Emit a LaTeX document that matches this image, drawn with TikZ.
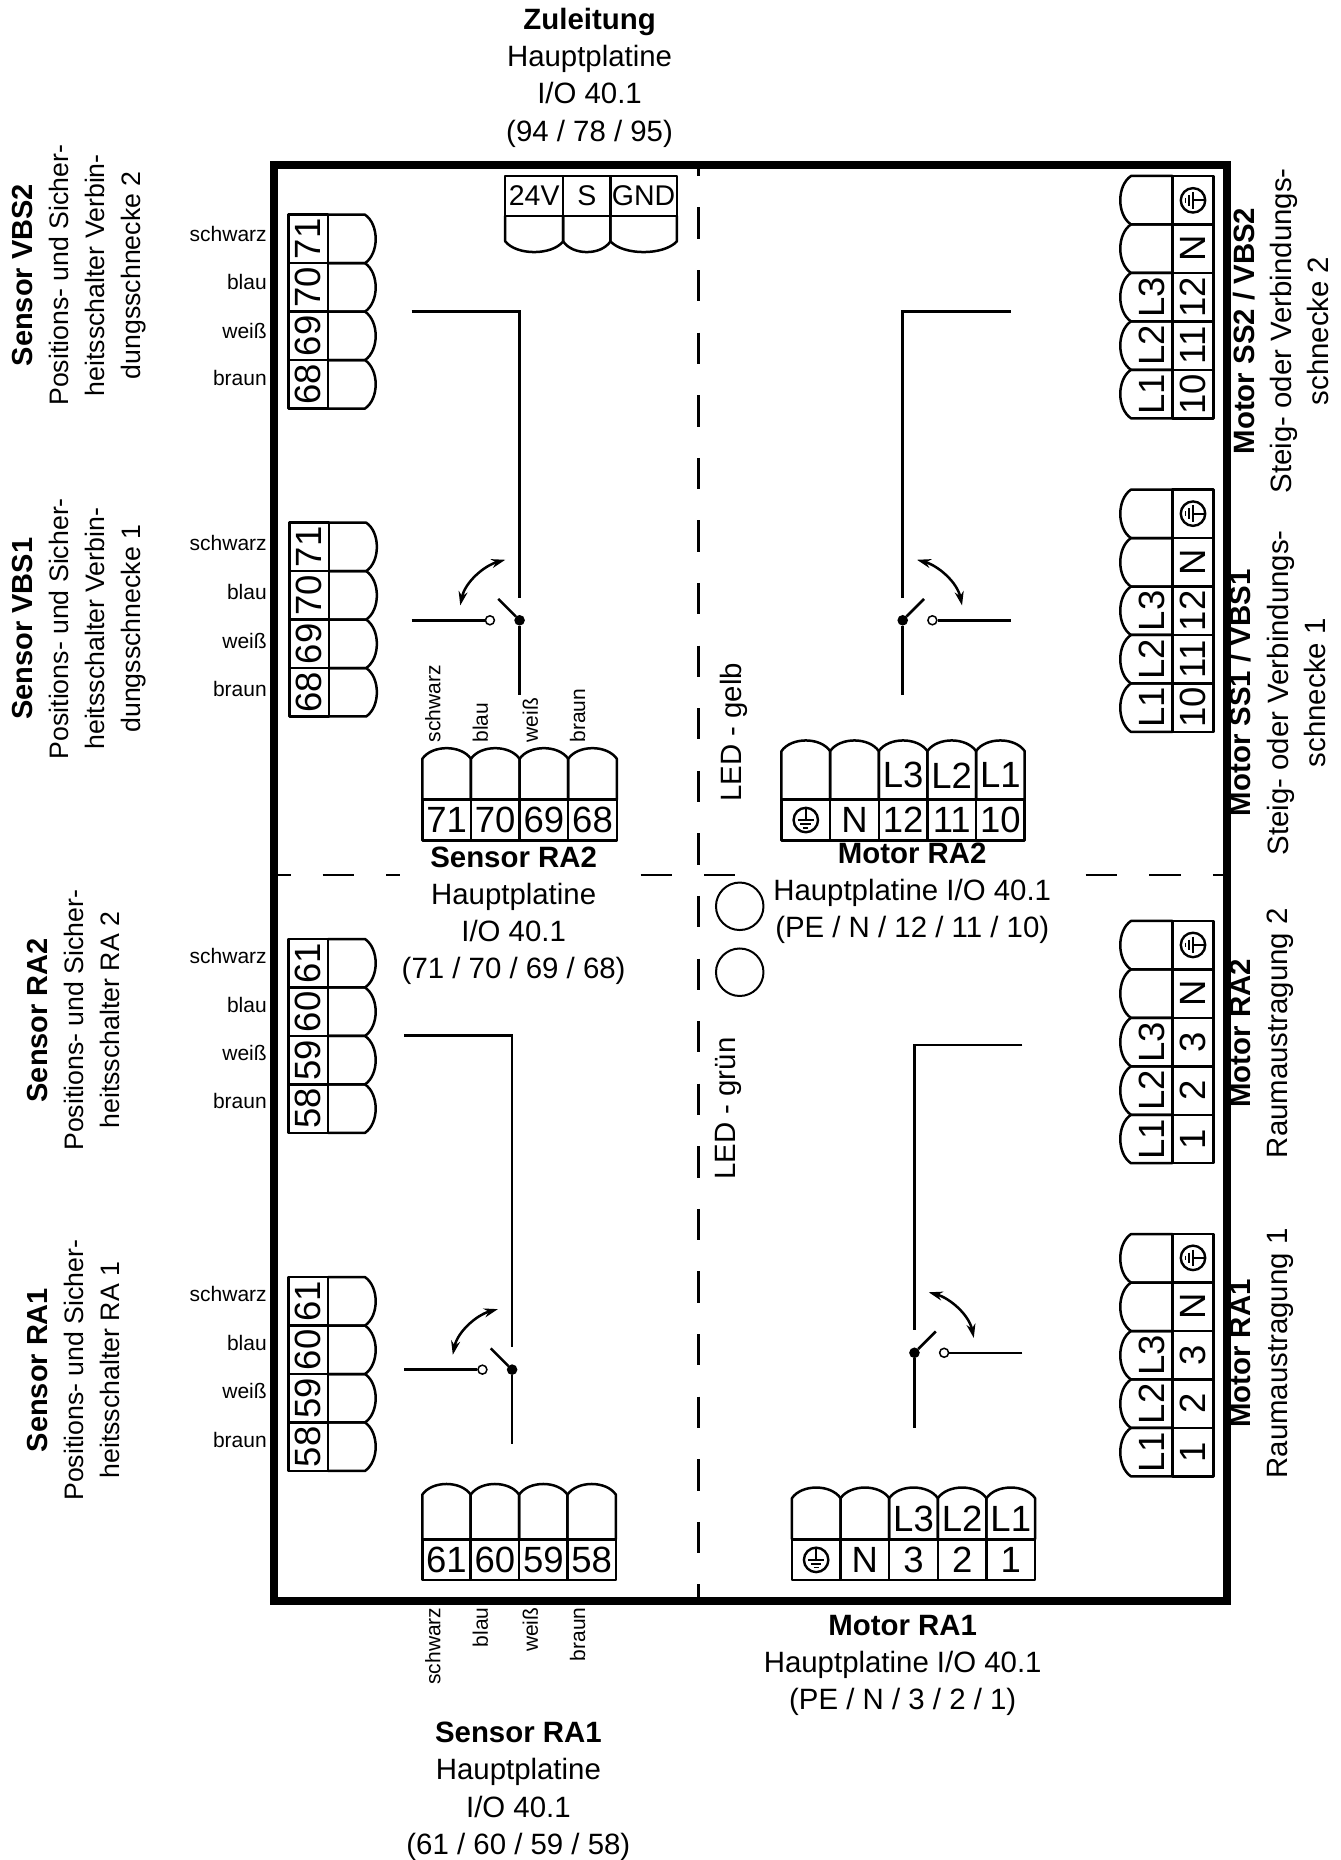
\documentclass[tikz,border=0pt]{standalone}
\usepackage{fontspec}
\setmainfont{Liberation Sans}
\usetikzlibrary{arrows.meta}
\newcommand{\kl}{1.1865pt}
\tikzset{>={Stealth[length=14pt,width=9pt]},
    linie/.style={line width=2.5pt},
    klemme/.style={line width=2.5pt,line join=round},
    kltext/.style={inner sep=0pt,font=\fontsize{36.5}{36.5}\selectfont},
    farbe/.style={inner sep=0pt,font=\fontsize{21}{21}\selectfont},
    titel/.style={align=center,font=\fontsize{29.4}{37.2}\selectfont},
    titelb/.style={align=center,font=\fontsize{26.7}{36}\selectfont},
    kontakt/.style={circle,draw,inner sep=0pt,minimum size=9pt,line width=1.5pt},
    erde/.pic={
        \draw[line width=2.4pt] (0,0) circle (10.3);
        \draw[line width=1.8pt] (0,-10) -- (0,0) (-7,0) -- (7,0) (-4.5,3.2) -- (4.5,3.2) (-2,6.4) -- (2,6.4);
    }}
% name, x, y, rotate, sign, cell, strip, shoulder, cells
\newcommand{\klemme}[9]{
\begin{scope}[shift={(#2,#3)},rotate=#4,x=\kl,y=#5\kl]
\foreach \nr/\txt [count=\i from 0] in {#9} {
    \pgfmathsetmacro{\xa}{\i*#6}
    \pgfmathsetmacro{\xb}{(\i+1)*#6}
    \draw[klemme] (\xa,0) rectangle (\xb,#7);
    \draw[klemme] (\xa,#7) -- (\xa,#8) .. controls ({\xa+.2*#6},{#8+12}) and ({\xb-.2*#6},{#8+12}) .. (\xb,#8) -- (\xb,#7);
    \node[kltext,rotate=#4] (#1-n\i) at ({\xa+.5*#6},{#7/2}) {\nr};
    \node[kltext,rotate=#4] (#1-l\i) at ({\xa+.5*#6},{(#7+#8)/2}) {\txt};
}
\end{scope}}
% name, x, y, direction, height
\newcommand{\schalter}[5]{
\begin{scope}[shift={(#2,#3)},x=#4\kl]
    \node[kontakt,fill=black] (#1-p) at (0,0) {};
    \node[kontakt,fill=white] (#1-o) at (25,0) {};
    \coordinate (#1-e) at (91,0);
    \coordinate (#1-h) at (18,-18);
    \coordinate (#1-u) at (0,63);
    \coordinate (#1-t) at (0,-19);
    \coordinate (#1-c) at (0,-#5);
    \coordinate (#1-w) at (91,-#5);
    \draw[linie] (#1-e) -- (#1-o);
    \draw[linie] (#1-p) -- (#1-h);
    \draw[linie] (#1-p) -- (#1-u);
    \draw[linie] (#1-w) -- (#1-c) -- (#1-t);
    \draw[linie,<->] (50,-12.5) .. controls (46,-32) and (30,-46) .. (12,-51);
\end{scope}}
\begin{document}
\begin{tikzpicture}[x=\kl,y=-\kl]
\useasboundingbox (0,0) rectangle (1130,1568);

\draw[linie,dash pattern=on 31.3pt off 31.3pt,dash phase=20pt] (589,139) -- (589,1351);
\draw[linie,dash pattern=on 31.8pt off 31.8pt,dash phase=13.8pt] (230,737.5) -- (1035,737.5);
\fill[white] (337,725) rectangle (538,750);
\fill[white] (620,725) rectangle (913,750);
\draw[line width=8pt] (231.4,139.4) rectangle (1034.4,1349.4);

% texts
\node[titel] (zuleitung) at (497,65.5) {\textbf{Zuleitung}\\Hauptplatine\\I/O 40.1\\(94 / 78 / 95)};
\node[titel] (sensorra2) at (433,772) {\textbf{Sensor RA2}\\Hauptplatine\\I/O 40.1\\(71 / 70 / 69 / 68)};
\node[titel] (motorra2) at (769,753) {\textbf{Motor RA2}\\Hauptplatine I/O 40.1\\(PE / N / 12 / 11 / 10)};
\node[titel] (motorra1) at (761,1404) {\textbf{Motor RA1}\\Hauptplatine I/O 40.1\\(PE / N / 3 / 2 / 1)};
\node[titel] (sensorra1) at (437,1510) {\textbf{Sensor RA1}\\Hauptplatine\\I/O 40.1\\(61 / 60 / 59 / 58)};

\node[titelb,rotate=90] (sensorvbs2) at (67,232) {{\fontsize{29}{36}\selectfont\bfseries Sensor VBS2}\\Positions- und Sicher-\\heitsschalter Verbin-\\dungsschnecke 2};
\node[titelb,rotate=90] (sensorvbs1) at (67,530) {{\fontsize{29}{36}\selectfont\bfseries Sensor VBS1}\\Positions- und Sicher-\\heitsschalter Verbin-\\dungsschnecke 1};
\node[titelb,rotate=90] (sensorlra2) at (62,860) {{\fontsize{29}{36}\selectfont\bfseries Sensor RA2}\\Positions- und Sicher-\\heitsschalter RA 2};
\node[titelb,rotate=90] (sensorlra1) at (62,1155) {{\fontsize{29}{36}\selectfont\bfseries Sensor RA1}\\Positions- und Sicher-\\heitsschalter RA 1};

\node[titel,rotate=90] (motorss2) at (1080,279) {\textbf{Motor SS2 / VBS2}\\Steig- oder Verbindungs-\\schnecke 2};
\node[titel,rotate=90] (motorss1) at (1077,584) {\textbf{Motor SS1 / VBS1}\\Steig- oder Verbindungs-\\schnecke 1};
\node[titel,rotate=90] (motorrra2) at (1064,871) {\textbf{Motor RA2}\\Raumaustragung 2};
\node[titel,rotate=90] (motorrra1) at (1064,1141) {\textbf{Motor RA1}\\Raumaustragung 1};

\node[titel,rotate=90] (ledgelb) at (619,617.5) {LED - gelb};
\node[titel,rotate=90] (ledgruen) at (614,934.6) {LED - grün};
\node[circle,draw,line width=2pt,minimum size=47.5pt,inner sep=0pt] (led1) at (623.6,764) {};
\node[circle,draw,line width=2pt,minimum size=47.5pt,inner sep=0pt] (led2) at (623.6,819.6) {};

% wire colours
\foreach \y/\farbe [count=\i] in {197/schwarz,238/blau,279/weiß,319/braun} {
    \node[farbe,anchor=east] (fa\i) at (225,\y) {\farbe};
}
\foreach \y/\farbe [count=\i] in {458/schwarz,499/blau,540/weiß,581/braun} {
    \node[farbe,anchor=east] (fb\i) at (225,\y) {\farbe};
}
\foreach \y/\farbe [count=\i] in {806/schwarz,847/blau,888/weiß,928/braun} {
    \node[farbe,anchor=east] (fc\i) at (225,\y) {\farbe};
}
\foreach \y/\farbe [count=\i] in {1091/schwarz,1132/blau,1173/weiß,1214/braun} {
    \node[farbe,anchor=east] (fd\i) at (225,\y) {\farbe};
}
\foreach \x/\farbe [count=\i] in {365/schwarz,405/blau,447/weiß,487/braun} {
    \node[farbe,rotate=90,anchor=west] (fe\i) at (\x,626) {\farbe};
}
\foreach \x/\farbe [count=\i] in {365/schwarz,405/blau,447/weiß,487/braun} {
    \node[farbe,rotate=90,anchor=east] (ff\i) at (\x,1355) {\farbe};
}

% terminals
\begin{scope}[kltext/.append style={font=\fontsize{28.5}{28.5}\selectfont}]
\klemme{za}{425.9}{148.5}{0}{-}{48.9}{33.4}{55}{24V/}
\klemme{zb}{474.8}{148.5}{0}{-}{39.8}{33.4}{55}{S/}
\klemme{zc}{514.6}{148.5}{0}{-}{56}{33.4}{55}{GND/}
\end{scope}
\klemme{vbsb}{243}{344.4}{90}{-}{40.85}{33.5}{64.7}{68/,69/,70/,71/}
\klemme{vbsa}{244}{604}{90}{-}{40.85}{33.5}{64.7}{68/,69/,70/,71/}
\klemme{rab}{243}{955}{90}{-}{40.85}{33.5}{64.7}{58/,59/,60/,61/}
\klemme{raa}{243}{1240}{90}{-}{40.85}{33.5}{64.7}{58/,59/,60/,61/}
\klemme{bsb}{356}{708.7}{0}{}{41}{34.7}{69}{71/,70/,69/,68/}
\klemme{bsa}{356}{1332}{0}{}{40.8}{34.3}{72}{61/,60/,59/,58/}
\klemme{bmb}{658.8}{708.7}{0}{}{41}{34.7}{75.5}{/,N/,12/L3,11/L2,10/L1}
\klemme{bma}{667.6}{1332}{0}{}{41}{34.3}{69}{/,N/,3/L3,2/L2,1/L1}
\klemme{msb}{1023}{352.6}{90}{}{40.85}{34.4}{69.6}{10/L1,11/L2,12/L3,N/,/}
\klemme{msa}{1023}{617}{90}{}{40.85}{34.4}{69.6}{10/L1,11/L2,12/L3,N/,/}
\klemme{mrb}{1023}{980.6}{90}{}{40.85}{34.4}{69.6}{1/L1,2/L2,3/L3,N/,/}
\klemme{mra}{1023}{1244.6}{90}{}{40.85}{34.4}{69.6}{1/L1,2/L2,3/L3,N/,/}

\pic at (679.3,691.3) {erde};
\pic at (688,1315) {erde};
\foreach \y in {168.9,433,796.6,1060.4} {
    \pic[rotate=-90] at (1005.7,\y) {erde};
}

% switches
\schalter{sa}{438}{522.9}{-}{260.2}
\schalter{sb}{761}{522.9}{}{260.2}
\schalter{sc}{431.7}{1154.6}{-}{281.6}
\schalter{sd}{770.9}{1140.4}{}{259.4}
\end{tikzpicture}
\end{document}
